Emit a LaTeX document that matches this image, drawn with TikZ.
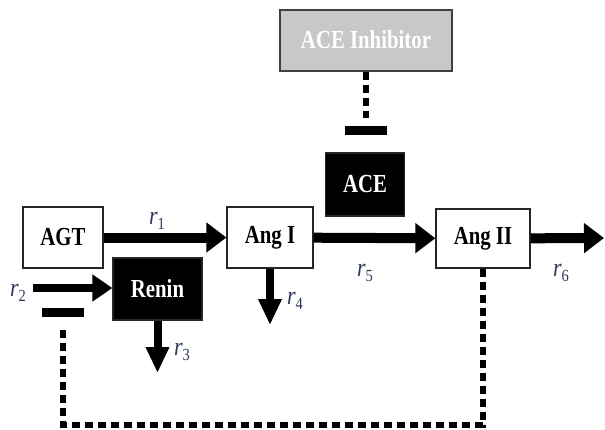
\documentclass[tikz,border=0pt]{standalone}
\usepackage{fontspec}
\newfontfamily\boxfont[FakeStretch=0.8]{Liberation Serif}
\newfontfamily\ratefont[FakeStretch=0.85]{Liberation Serif}
\usetikzlibrary{arrows.meta}
\definecolor{ratecol}{RGB}{45,55,90}
\definecolor{inhibgray}{RGB}{200,200,202}
\newcommand{\ratelabel}[1]{r\raisebox{-5pt}{\upshape\fontsize{17}{17}\selectfont #1}}
\tikzset{
  species/.style={draw=black!85, line width=1.3pt, fill=white, inner sep=0pt,
    font=\boxfont\bfseries\fontsize{26}{26}\selectfont},
  enzyme/.style={species, fill=black, text=white},
  drug/.style={species, draw=black!75, line width=2pt, fill=inhibgray, text=white},
  flux/.style={line width=10pt, -{Triangle[length=20pt,width=29pt]}},
  drain/.style={line width=8pt, -{Triangle[length=26pt,width=22pt]}},
  inhib/.style={line width=6pt, dash pattern=on 8pt off 5pt},
  tbar/.style={fill=black, inner sep=0pt, minimum width=42pt, minimum height=9pt},
  rate/.style={text=ratecol, inner sep=0pt, font=\ratefont\itshape\fontsize{26}{26}\selectfont},
}

\begin{document}
\begin{tikzpicture}[x=1pt, y=-1pt]
\useasboundingbox (0,0) rectangle (605,429);
\node[species, minimum width=80pt, minimum height=61pt] (agt) at (63,237.5) {AGT};
\node[species, minimum width=86pt, minimum height=61pt] (angI) at (270,237.5) {Ang I};
\node[species, minimum width=94pt, minimum height=59pt] (angII) at (483,238.5) {Ang II};
\node[enzyme, minimum width=89pt, minimum height=62pt] (renin) at (157.5,289) {Renin};
\node[enzyme, minimum width=79pt, minimum height=63pt] (ace) at (365,184.5) {ACE};
\node[drug, minimum width=172pt, minimum height=61pt] (acei) at (366,40) {ACE Inhibitor};
\node[tbar] (acebar) at (366,130) {};
\node[tbar] (fbbar) at (63,312.5) {};
\coordinate (r2in) at (33,288);
\coordinate (r3out) at (157.5,373);
\coordinate (r4out) at (270,325);
\coordinate (r6out) at (604,238);
\draw[flux] (agt) -- (angI);
\draw[flux] (angI) -- (angII);
\draw[flux] (angII) -- (r6out);
\draw[flux, line width=8pt, -{Triangle[length=20pt,width=26pt]}] (r2in) -- (renin.west |- r2in);
\draw[drain] (renin) -- (r3out);
\draw[drain] (angI) -- (r4out);
\draw[inhib] (acei.south) -- ([yshift=7pt]acebar.north);
\draw[inhib] (angII.south) -- ++(0,156) -| ([yshift=-8pt]fbbar.south);
\node[rate] (lr1) at (157,221) {\ratelabel{1}};
\node[rate] (lr2) at (18,293) {\ratelabel{2}};
\node[rate] (lr3) at (182,352) {\ratelabel{3}};
\node[rate] (lr4) at (295,301) {\ratelabel{4}};
\node[rate] (lr5) at (365,273) {\ratelabel{5}};
\node[rate] (lr6) at (561,273) {\ratelabel{6}};
\end{tikzpicture}
\end{document}
